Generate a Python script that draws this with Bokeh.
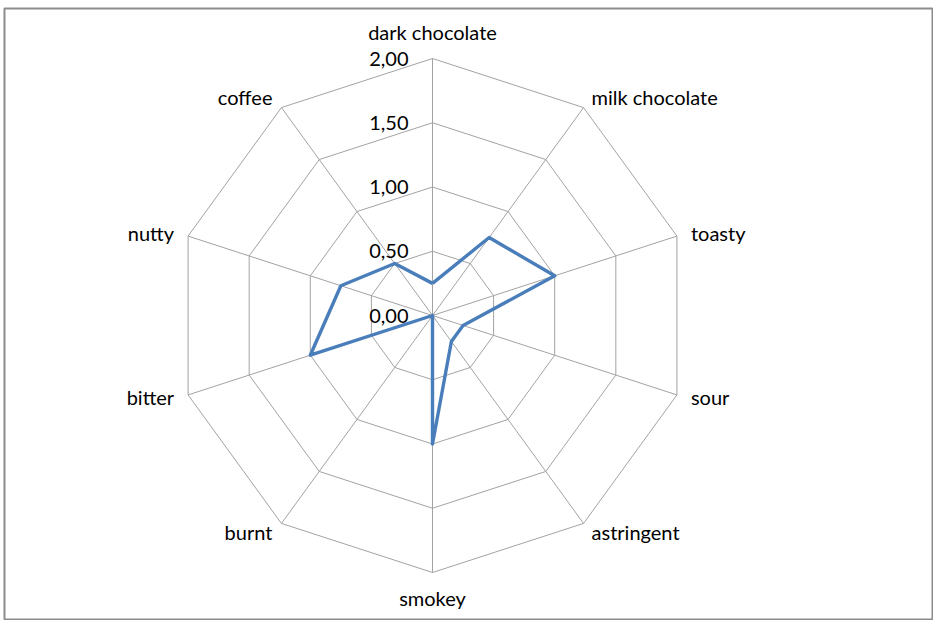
import math
from bokeh.plotting import figure
from bokeh.models import ColumnDataSource
from bokeh.core.properties import value
from bokeh.embed import file_html
from bokeh.resources import INLINE

categories = ["dark chocolate", "milk chocolate", "toasty", "sour", "astringent",
              "smokey", "burnt", "bitter", "nutty", "coffee"]
scores = [0.25, 0.75, 1.0, 0.25, 0.25, 1.0, 0.0, 1.0, 0.75, 0.5]
ring_values = [0.5, 1.0, 1.5, 2.0]
tick_values = [0.0, 0.5, 1.0, 1.5, 2.0]
tick_labels = ["0,00", "0,50", "1,00", "1,50", "2,00"]

FW, FH = 928, 611      # frame size
ML, MT = 4, 8          # frame offset
cx, cy = 428, 307      # centre in frame pixels
scale = 128.5          # pixels per unit

p = figure(width=ML + FW + 1, height=MT + FH + 1, output_backend="svg", toolbar_location=None,
           x_range=(-cx / scale, (FW - cx) / scale),
           y_range=(-(FH - cy) / scale, cy / scale),
           min_border_left=ML, min_border_top=MT, min_border_right=1, min_border_bottom=1)
p.axis.visible = False
p.grid.visible = False
p.outline_line_color = "#8c8c8c"
p.outline_line_width = 2
p.background_fill_color = "white"

n = len(categories)
ang = [math.pi / 2 - 2 * math.pi * i / n for i in range(n)]
rmax = max(ring_values)

# rings
for r in ring_values:
    xs = [r * math.cos(a) for a in ang] + [r * math.cos(ang[0])]
    ys = [r * math.sin(a) for a in ang] + [r * math.sin(ang[0])]
    p.line(xs, ys, line_color="#a3a3a3", line_width=1)

# spokes
for a in ang:
    p.line([0, rmax * math.cos(a)], [0, rmax * math.sin(a)], line_color="#a3a3a3", line_width=1)

# data
dx = [v * math.cos(a) for v, a in zip(scores, ang)]
dy = [v * math.sin(a) for v, a in zip(scores, ang)]
p.line(dx + [dx[0]], dy + [dy[0]], line_color="#4a7ebb", line_width=3.4, line_join="round")

# category labels
xo, yo, al = [], [], []
for i, a in enumerate(ang):
    c, s = math.cos(a), math.sin(a)
    if abs(c) < 1e-6:
        al.append("center"); xo.append(0); yo.append(-27 if s > 0 else 25)
    elif c > 0:
        al.append("left")
        xo.append(8 if abs(s) > 0.5 else 14)
        yo.append(-11 if s > 0.5 else (-3 if s > 0 else (2 if s > -0.5 else 9)))
    else:
        al.append("right")
        xo.append(-9 if abs(s) > 0.5 else -14)
        yo.append(-11 if s > 0.5 else (-3 if s > 0 else (2 if s > -0.5 else 9)))
lab = ColumnDataSource(dict(x=[rmax * math.cos(a) for a in ang],
                            y=[rmax * math.sin(a) for a in ang],
                            t=categories, xo=xo, yo=yo, al=al))
p.text(x="x", y="y", text="t", x_offset="xo", y_offset="yo", text_align="al",
       text_baseline="middle", source=lab, text_font=value("Lato"),
       text_font_size="20px", text_color="#000000")

# tick labels
tk = ColumnDataSource(dict(x=[0] * len(tick_values), y=tick_values, t=tick_labels))
p.text(x="x", y="y", text="t", x_offset=-24, y_offset=0, text_align="right",
       text_baseline="middle", source=tk, text_font=value("Lato"),
       text_font_size="20px", text_color="#000000")

open("out.html", "w").write(file_html(p, INLINE))
